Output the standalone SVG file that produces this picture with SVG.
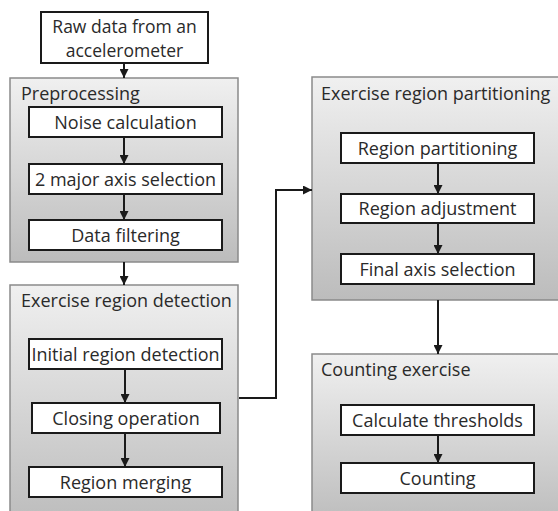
<svg xmlns="http://www.w3.org/2000/svg" width="558" height="511" viewBox="0 0 558 511">
  <style>
    .panel { stroke: #8a8a8a; stroke-width: 1.5; fill: url(#panelFill); }
    .step { fill: #ffffff; stroke: #1a1a1a; stroke-width: 2; }
    .label { font-family: "Open Sans", "Noto Sans", "DejaVu Sans", sans-serif; font-size: 18px; fill: #2a2a2a; text-anchor: middle; }
    .title { font-family: "Open Sans", "Noto Sans", "DejaVu Sans", sans-serif; font-size: 18px; fill: #2a2a2a; }
    .link { stroke: #1a1a1a; stroke-width: 2; fill: none; marker-end: url(#head); }
  </style>
  <defs>
    <linearGradient id="panelFill" x1="0" y1="0" x2="0" y2="1">
      <stop offset="0" stop-color="#f0f0f0"/>
      <stop offset="1" stop-color="#bcbcbc"/>
    </linearGradient>
    <marker id="head" viewBox="0 0 10 10" refX="10" refY="5" markerWidth="4.5" markerHeight="4.5" orient="auto" markerUnits="strokeWidth">
      <path d="M0,0 L10,5 L0,10 z" fill="#1a1a1a"/>
    </marker>
  </defs>

  <rect width="558" height="511" fill="#ffffff"/>

  <!-- input -->
  <g id="raw-data">
    <rect class="step" x="41" y="12" width="167" height="51"/>
    <text class="label" x="124.5" y="32.5" style="font-size:17.5px">Raw data from an</text>
    <text class="label" x="124.5" y="56.5" style="font-size:17.5px">accelerometer</text>
  </g>

  <!-- preprocessing stage -->
  <g id="preprocessing">
    <rect class="panel" x="10" y="78" width="228" height="184"/>
    <text class="title" x="21" y="100">Preprocessing</text>
  </g>
  <g id="noise-calculation">
    <rect class="step" x="29" y="107" width="193" height="30"/>
    <text class="label" x="125.5" y="128.5">Noise calculation</text>
  </g>
  <g id="axis-selection">
    <rect class="step" x="29" y="164" width="193" height="30"/>
    <text class="label" x="125.5" y="185.5">2 major axis selection</text>
  </g>
  <g id="data-filtering">
    <rect class="step" x="29" y="220" width="193" height="30"/>
    <text class="label" x="125.5" y="241.5">Data filtering</text>
  </g>

  <!-- detection stage -->
  <g id="region-detection">
    <rect class="panel" x="10" y="285" width="228" height="240"/>
    <text class="title" x="21" y="307">Exercise region detection</text>
  </g>
  <g id="initial-detection">
    <rect class="step" x="29" y="339" width="193" height="30"/>
    <text class="label" x="125.5" y="360.5">Initial region detection</text>
  </g>
  <g id="closing-operation">
    <rect class="step" x="32" y="403" width="188" height="30"/>
    <text class="label" x="126" y="424.5">Closing operation</text>
  </g>
  <g id="region-merging">
    <rect class="step" x="29" y="467" width="193" height="30"/>
    <text class="label" x="125.5" y="488.5">Region merging</text>
  </g>

  <!-- partitioning stage -->
  <g id="region-partitioning-stage">
    <rect class="panel" x="312" y="77" width="256" height="223"/>
    <text class="title" x="321" y="100">Exercise region partitioning</text>
  </g>
  <g id="region-partitioning">
    <rect class="step" x="341" y="133" width="193" height="30"/>
    <text class="label" x="437.5" y="154.5">Region partitioning</text>
  </g>
  <g id="region-adjustment">
    <rect class="step" x="341" y="194" width="193" height="29"/>
    <text class="label" x="437.5" y="215">Region adjustment</text>
  </g>
  <g id="final-axis">
    <rect class="step" x="341" y="254" width="193" height="30"/>
    <text class="label" x="437.5" y="275.5">Final axis selection</text>
  </g>

  <!-- counting stage -->
  <g id="counting-exercise">
    <rect class="panel" x="312" y="354" width="256" height="170"/>
    <text class="title" x="321" y="376">Counting exercise</text>
  </g>
  <g id="calculate-thresholds">
    <rect class="step" x="341" y="405" width="193" height="30"/>
    <text class="label" x="437.5" y="426.5">Calculate thresholds</text>
  </g>
  <g id="counting">
    <rect class="step" x="341" y="463" width="193" height="30"/>
    <text class="label" x="437.5" y="484.5">Counting</text>
  </g>

  <!-- connectors -->
  <g id="connectors">
    <path class="link" d="M124,63 V78"/>
    <path class="link" d="M124,137 V164"/>
    <path class="link" d="M124,194 V220"/>
    <path class="link" d="M124,262 V285"/>
    <path class="link" d="M125,369 V403"/>
    <path class="link" d="M125,433 V467"/>
    <path class="link" d="M239,398 H276 V190 H312"/>
    <path class="link" d="M438,163 V194"/>
    <path class="link" d="M438,223 V254"/>
    <path class="link" d="M438,300 V354"/>
    <path class="link" d="M438,435 V463"/>
  </g>
</svg>
